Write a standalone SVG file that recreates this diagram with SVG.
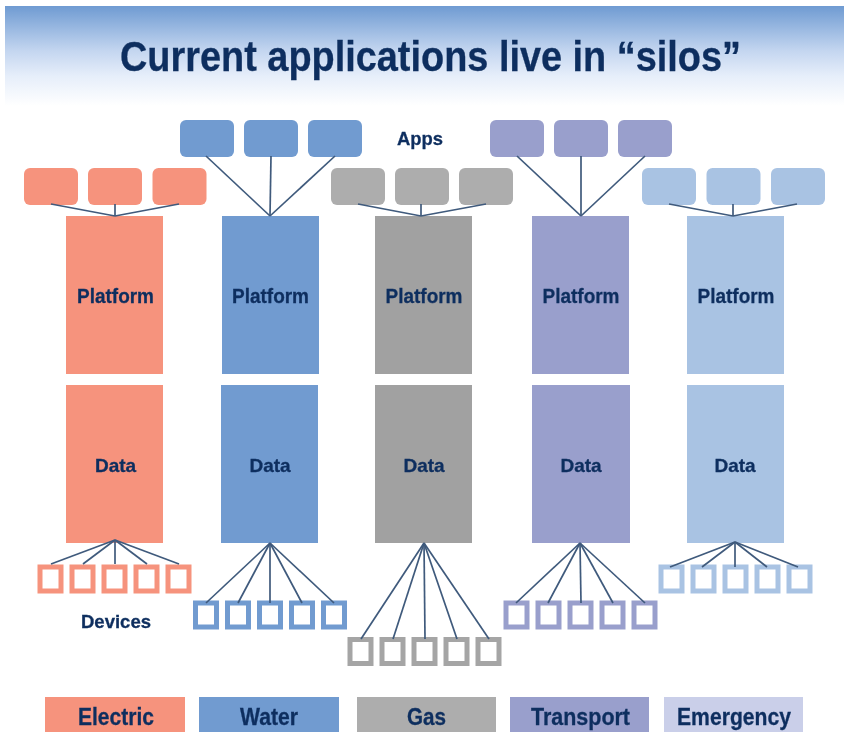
<svg xmlns="http://www.w3.org/2000/svg" width="844" height="732" viewBox="0 0 844 732">
<style>
text{font-family:"Liberation Sans",Arial,sans-serif;font-weight:bold;fill:#0f2f5f;text-anchor:middle;stroke:#0f2f5f;stroke-width:.3}
.t{font-size:42px}
.l{font-size:20.500px}
.m{font-size:23.500px}
.s{font-size:19px}
.c line{stroke:#3f5a7c;stroke-width:1.7}
.e{fill:#f6937d}.w{fill:#719bd0}.g{fill:#adadad}.p{fill:#999fcc}.y{fill:#a9c3e3}
.pe{fill:#f6937d}.pw{fill:#719bd0}.pg{fill:#a1a1a1}.pp{fill:#999fcc}.py{fill:#a9c3e3}
.d{fill:#fff;stroke-width:5}
.de{stroke:#f6937d}.dw{stroke:#719bd0}.dg{stroke:#a5a5a5}.dp{stroke:#999fcc}.dy{stroke:#a9c3e3}
</style>
<defs>
<linearGradient id="b" x1="0" y1="0" x2="0" y2="1">
<stop offset="0" stop-color="#6f9bd2"/><stop offset=".45" stop-color="#c4d6f0"/><stop offset=".7" stop-color="#e6eefa"/><stop offset="1" stop-color="#fff"/>
</linearGradient>
<filter id="soft" x="0" y="0" width="100%" height="100%"><feGaussianBlur stdDeviation="0.35"/></filter>
<rect id="a" width="54" height="37" rx="6"/>
<rect id="q" width="21" height="24"/>
</defs>
<g filter="url(#soft)">
<rect x="5" y="6" width="839" height="100" fill="url(#b)"/>
<text class="t" x="430.500" y="71" textLength="621" lengthAdjust="spacingAndGlyphs">Current applications live in “silos”</text>
<g id="apps-label"><text class="s" x="420" y="145" textLength="46" lengthAdjust="spacingAndGlyphs">Apps</text></g>
<g id="devices-label"><text class="s" x="116" y="628" textLength="70" lengthAdjust="spacingAndGlyphs">Devices</text></g>
<g id="electric-apps" class="e"><use href="#a" x="24" y="168"/><use href="#a" x="88" y="168"/><use href="#a" x="152.500" y="168"/></g>
<g id="water-apps" class="w"><use href="#a" x="180" y="120"/><use href="#a" x="244" y="120"/><use href="#a" x="308" y="120"/></g>
<g id="gas-apps" class="g"><use href="#a" x="331" y="168"/><use href="#a" x="395" y="168"/><use href="#a" x="459" y="168"/></g>
<g id="transport-apps" class="p"><use href="#a" x="490" y="120"/><use href="#a" x="554" y="120"/><use href="#a" x="618" y="120"/></g>
<g id="emergency-apps" class="y"><use href="#a" x="642" y="168"/><use href="#a" x="706.500" y="168"/><use href="#a" x="771" y="168"/></g>
<g id="electric-platform"><rect class="pe" x="66" y="216" width="97" height="158"/><text class="l" x="115.500" y="303" textLength="77" lengthAdjust="spacingAndGlyphs">Platform</text></g>
<g id="water-platform"><rect class="pw" x="222" y="216" width="97" height="158"/><text class="l" x="270.500" y="303" textLength="77" lengthAdjust="spacingAndGlyphs">Platform</text></g>
<g id="gas-platform"><rect class="pg" x="375" y="216" width="97" height="158"/><text class="l" x="424" y="303" textLength="77" lengthAdjust="spacingAndGlyphs">Platform</text></g>
<g id="transport-platform"><rect class="pp" x="532" y="216" width="97" height="158"/><text class="l" x="581" y="303" textLength="77" lengthAdjust="spacingAndGlyphs">Platform</text></g>
<g id="emergency-platform"><rect class="py" x="687" y="216" width="97" height="158"/><text class="l" x="736" y="303" textLength="77" lengthAdjust="spacingAndGlyphs">Platform</text></g>
<g id="electric-data"><rect class="pe" x="66" y="385" width="97" height="158"/><text class="s" x="115.500" y="472">Data</text></g>
<g id="water-data"><rect class="pw" x="221" y="385" width="97" height="158"/><text class="s" x="270" y="472">Data</text></g>
<g id="gas-data"><rect class="pg" x="375" y="385" width="97" height="158"/><text class="s" x="424" y="472">Data</text></g>
<g id="transport-data"><rect class="pp" x="532" y="385" width="98" height="158"/><text class="s" x="581" y="472">Data</text></g>
<g id="emergency-data"><rect class="py" x="687" y="385" width="97" height="158"/><text class="s" x="735" y="472">Data</text></g>
<g id="electric-devices" class="d de"><use href="#q" x="40" y="567"/><use href="#q" x="72" y="567"/><use href="#q" x="104" y="567"/><use href="#q" x="136" y="567"/><use href="#q" x="168" y="567"/></g>
<g id="water-devices" class="d dw"><use href="#q" x="195.500" y="603"/><use href="#q" x="227.500" y="603"/><use href="#q" x="259.500" y="603"/><use href="#q" x="291.500" y="603"/><use href="#q" x="323.500" y="603"/></g>
<g id="gas-devices" class="d dg"><use href="#q" x="350" y="639.500"/><use href="#q" x="382" y="639.500"/><use href="#q" x="414" y="639.500"/><use href="#q" x="446" y="639.500"/><use href="#q" x="478" y="639.500"/></g>
<g id="transport-devices" class="d dp"><use href="#q" x="506" y="603"/><use href="#q" x="538" y="603"/><use href="#q" x="570" y="603"/><use href="#q" x="602" y="603"/><use href="#q" x="634" y="603"/></g>
<g id="emergency-devices" class="d dy"><use href="#q" x="661" y="567"/><use href="#q" x="693" y="567"/><use href="#q" x="725" y="567"/><use href="#q" x="757" y="567"/><use href="#q" x="789" y="567"/></g>
<g id="legend-electric"><rect class="e" x="45" y="697" width="140" height="35"/><text class="m" x="116" y="724.500" textLength="76" lengthAdjust="spacingAndGlyphs">Electric</text></g>
<g id="legend-water"><rect class="w" x="199" y="697" width="140" height="35"/><text class="m" x="269" y="724.500" textLength="58" lengthAdjust="spacingAndGlyphs">Water</text></g>
<g id="legend-gas"><rect class="g" x="357" y="697" width="139" height="35"/><text class="m" x="426.500" y="724.500" textLength="39" lengthAdjust="spacingAndGlyphs">Gas</text></g>
<g id="legend-transport"><rect class="p" x="510" y="697" width="139" height="35"/><text class="m" x="580.500" y="724.500" textLength="99" lengthAdjust="spacingAndGlyphs">Transport</text></g>
<g id="legend-emergency"><rect fill="#cacfe9" x="664" y="697" width="139" height="35"/><text class="m" x="734" y="724.500" textLength="114" lengthAdjust="spacingAndGlyphs">Emergency</text></g>
<g id="connectors" class="c">
<line x1="51" y1="204" x2="115" y2="216"/><line x1="115" y1="204" x2="115" y2="216"/><line x1="179" y1="204" x2="115" y2="216"/>
<line x1="206" y1="156" x2="270" y2="216"/><line x1="271" y1="156" x2="270" y2="216"/><line x1="335" y1="156" x2="270" y2="216"/>
<line x1="358" y1="204" x2="421" y2="216"/><line x1="421" y1="204" x2="421" y2="216"/><line x1="486" y1="204" x2="421" y2="216"/>
<line x1="517" y1="156" x2="581" y2="216"/><line x1="581" y1="156" x2="581" y2="216"/><line x1="645" y1="156" x2="581" y2="216"/>
<line x1="669" y1="204" x2="733" y2="216"/><line x1="733" y1="204" x2="733" y2="216"/><line x1="797" y1="204" x2="733" y2="216"/>
<line x1="115" y1="540" x2="51" y2="564"/><line x1="115" y1="540" x2="83" y2="564"/><line x1="115" y1="540" x2="115" y2="564"/><line x1="115" y1="540" x2="147" y2="564"/><line x1="115" y1="540" x2="179" y2="564"/>
<line x1="270" y1="543" x2="206" y2="603"/><line x1="270" y1="543" x2="238" y2="603"/><line x1="270" y1="543" x2="270" y2="603"/><line x1="270" y1="543" x2="302" y2="603"/><line x1="270" y1="543" x2="334" y2="603"/>
<line x1="424" y1="543" x2="361" y2="639"/><line x1="424" y1="543" x2="393" y2="639"/><line x1="424" y1="543" x2="425" y2="639"/><line x1="424" y1="543" x2="457" y2="639"/><line x1="424" y1="543" x2="489" y2="639"/>
<line x1="580" y1="543" x2="516" y2="603"/><line x1="580" y1="543" x2="548" y2="603"/><line x1="580" y1="543" x2="581" y2="603"/><line x1="580" y1="543" x2="613" y2="603"/><line x1="580" y1="543" x2="645" y2="603"/>
<line x1="735" y1="542" x2="670" y2="567"/><line x1="735" y1="542" x2="702" y2="567"/><line x1="735" y1="542" x2="735" y2="567"/><line x1="735" y1="542" x2="767" y2="567"/><line x1="735" y1="542" x2="798" y2="567"/>
</g>
</g>
</svg>
